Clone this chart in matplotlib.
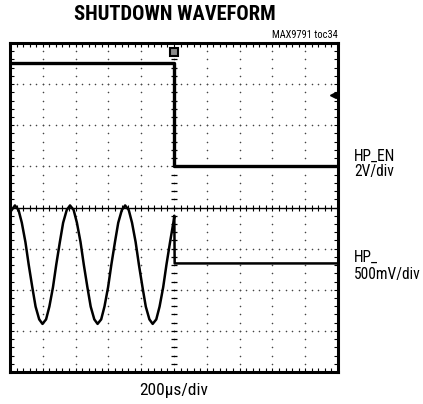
import numpy as np
import matplotlib
matplotlib.use("Agg")
import matplotlib.pyplot as plt
from matplotlib import font_manager as fm

names = {f.name for f in fm.fontManager.ttflist}
def pick(cands, default='DejaVu Sans'):
    for c in cands:
        if c in names:
            return c
    return default
narrow = pick(['Nimbus Sans Narrow', 'Liberation Sans Narrow', 'Arial Narrow', 'Roboto Condensed',
               'Archivo Narrow', 'PT Sans Narrow', 'Barlow Semi Condensed', 'Barlow Condensed'])
title_font = pick(['Nimbus Sans Narrow', 'Roboto Condensed', 'Liberation Sans Narrow', 'Arial Narrow',
                   'Archivo Narrow', 'Barlow Condensed'])

# ---- data (in divisions) ----
en_t = [0.0, 5.0, 5.0, 10.0]
en_v = [3.51, 3.51, 1.02, 1.02]

hp_t = [0.00, 0.15, 0.26, 0.36, 0.47, 0.57, 0.68, 0.78, 0.89, 0.99, 1.10, 1.20, 1.31, 1.41,
        1.52, 1.62, 1.73, 1.83, 1.94, 2.04, 2.15, 2.25, 2.36, 2.46, 2.57, 2.67, 2.78, 2.88,
        2.99, 3.09, 3.20, 3.30, 3.41, 3.51, 3.62, 3.72, 3.83, 3.93, 4.04, 4.14, 4.25, 4.35,
        4.46, 4.56, 4.67, 4.77, 4.88, 4.98, 5.01, 5.02, 10.0]
hp_v = [-0.12, 0.05, -0.06, -0.37, -0.84, -1.39, -1.94, -2.41, -2.72, -2.83, -2.72, -2.41,
        -1.94, -1.39, -0.84, -0.37, -0.06, 0.05, -0.06, -0.37, -0.84, -1.39, -1.94, -2.41,
        -2.72, -2.83, -2.72, -2.41, -1.94, -1.39, -0.84, -0.37, -0.06, 0.05, -0.06, -0.37,
        -0.84, -1.39, -1.94, -2.41, -2.72, -2.83, -2.72, -2.41, -1.94, -1.39, -0.84, -0.37,
        -0.20, -1.36, -1.36]

fig = plt.figure(figsize=(4.23, 4.04), dpi=100)
ax = fig.add_axes([10/423, 32/404, 328/423, 329/404])
ax.set_xlim(0, 10)
ax.set_ylim(-4, 4)

# graticule dots
sub_x = np.arange(0, 10.001, 0.2)
sub_y = np.arange(-4, 4.001, 0.2)
for j in [-3, -2, -1, 1, 2, 3]:
    ax.scatter(sub_x, np.full_like(sub_x, j), s=1.3, color='#444444', lw=0, zorder=1)
for i in [1, 2, 3, 4, 6, 7, 8, 9]:
    ax.scatter(np.full_like(sub_y, i), sub_y, s=1.3, color='#444444', lw=0, zorder=1)
# center axes
ax.axhline(0, color='black', lw=1.0, zorder=2)
ax.scatter(sub_x, np.zeros_like(sub_x), marker='|', s=18, color='black', lw=0.8, zorder=2)
ax.scatter(np.full_like(sub_y, 5), sub_y, marker='_', s=22, color='black', lw=0.9, zorder=2)
ax.scatter(np.full_like(sub_y, 5), sub_y, s=1.3, color='#444444', lw=0, zorder=1)

# traces
ax.plot(en_t, en_v, color='black', lw=2.4, zorder=4)
ax.plot(hp_t, hp_v, color='black', lw=1.8, zorder=4)

# trigger markers
ax.plot([5.0], [3.78], marker='s', ms=6, mfc='#888888', mec='black', mew=1.5, zorder=5, clip_on=False)
ax.plot([9.85], [2.73], marker='<', ms=4, color='black', zorder=5, clip_on=False)

# frame and ticks
for s in ax.spines.values():
    s.set_linewidth(2.2)
ax.set_xticks(np.arange(0, 10.01, 1))
ax.set_yticks(np.arange(-4, 4.01, 1))
ax.set_xticks(sub_x, minor=True)
ax.set_yticks(sub_y, minor=True)
ax.tick_params(which='both', direction='in', top=True, right=True,
               labelbottom=False, labelleft=False, length=3, width=0.8)

# text
fig.text(175/423, 1 - 15/404, 'SHUTDOWN WAVEFORM', ha='center', va='center',
         fontsize=14.8, fontweight='bold', family=title_font)
fig.text(338/423, 1 - 35/404, 'MAX9791 toc34', ha='right', va='center',
         fontsize=7.5, family=narrow)
for txt, y in [('HP_EN', 156), ('2V/div', 172), ('HP_', 257), ('500mV/div', 274)]:
    fig.text(354/423, 1 - y/404, txt, ha='left', va='center', fontsize=11.2, family=narrow)
fig.text(174/423, 1 - 391/404, '200µs/div', ha='center', va='center', fontsize=12.5, family=narrow)

fig.savefig('out.png', dpi=100)
